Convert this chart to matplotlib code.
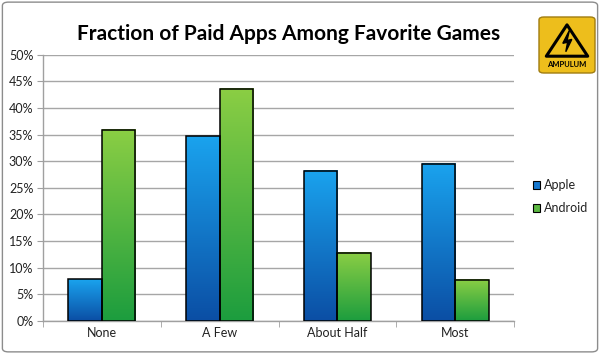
import matplotlib
matplotlib.use("Agg")
import matplotlib.pyplot as plt
import numpy as np
from matplotlib.patches import FancyBboxPatch, Polygon, Rectangle
from matplotlib.colors import LinearSegmentedColormap

categories = ["None", "A Few", "About Half", "Most"]
series_names = ["Apple", "Android"]
apple = [7.8, 34.7, 28.2, 29.5]
android = [35.9, 43.6, 12.8, 7.7]
yticks = [0, 5, 10, 15, 20, 25, 30, 35, 40, 45, 50]
title = "Fraction of Paid Apps Among Favorite Games"

plt.rcParams['font.family'] = ['Lato', 'DejaVu Sans']

fig = plt.figure(figsize=(6, 3.54), dpi=100)
fig.patch.set_facecolor("white")
ax = fig.add_axes([0.0717, 0.0932, 0.785, 0.7523])

cmaps = [
    LinearSegmentedColormap.from_list("b", ["#0B4EA4", "#1AA3EE"]),
    LinearSegmentedColormap.from_list("g", ["#1C9D3E", "#8BCE44"]),
]
legend_cols = ["#1577CE", "#5CB842"]

x = np.arange(len(categories))
w = 0.285
grad = np.linspace(0, 1, 256).reshape(-1, 1)
for i, (vals, cm) in enumerate(zip([apple, android], cmaps)):
    offs = (i - 0.5) * w
    bars = ax.bar(x + offs, vals, w, facecolor="none", edgecolor="black",
                  linewidth=1.1, zorder=4, label=series_names[i])
    for b in bars:
        x0, y0 = b.get_x(), b.get_y()
        bw, bh = b.get_width(), b.get_height()
        ax.imshow(grad, cmap=cm, origin="lower", aspect="auto",
                  extent=[x0, x0 + bw, y0, y0 + bh], zorder=3,
                  interpolation="bilinear")

ax.set_xlim(-0.5, len(categories) - 0.5)
ax.set_ylim(0, 50)
ax.set_yticks(yticks)
ax.set_yticklabels([f"{v}%" for v in yticks], fontsize=9, color="#222222")
ax.set_xticks(x)
ax.set_xticklabels(categories, fontsize=9, color="#222222")
ax.set_xticks(np.arange(-0.5, len(categories), 1), minor=True)
ax.tick_params(axis="x", which="major", length=0, pad=4)
ax.tick_params(axis="x", which="minor", length=4, color="#A0A0A0", direction="out")
ax.tick_params(axis="y", length=4, color="#A0A0A0", direction="out", pad=3)
ax.yaxis.grid(True, color="#A6A6A6", linewidth=1.0, zorder=0)
ax.set_axisbelow(True)
for s in ["top", "right"]:
    ax.spines[s].set_visible(False)
for s in ["left", "bottom"]:
    ax.spines[s].set_color("#A0A0A0")
    ax.spines[s].set_linewidth(1.0)

fig.text(0.4817, 0.905, title, ha="center", va="center", fontsize=15,
         fontweight="bold", color="black")

# legend
for i, (name, col) in enumerate(zip(series_names, legend_cols)):
    yy = 1 - (185 + i * 23) / 354
    fig.patches.append(Rectangle((0.888, yy - 0.012), 0.0125, 0.024,
                                 transform=fig.transFigure, facecolor=col,
                                 edgecolor="black", linewidth=0.8))
    fig.text(0.906, yy, name, fontsize=9, va="center", color="#222222")

# logo
lx0, ly0, lw, lh = 539 / 600, 1 - 73 / 354, 56 / 600, 56 / 354
fig.patches.append(FancyBboxPatch((lx0, ly0), lw, lh, boxstyle="round,pad=0,rounding_size=0.008",
                                  transform=fig.transFigure, facecolor="#EDBE1C",
                                  edgecolor="#A07C10", linewidth=1.0))
cx = lx0 + lw / 2
tri = Polygon([[cx, ly0 + lh * 0.86], [lx0 + lw * 0.13, ly0 + lh * 0.30],
               [lx0 + lw * 0.87, ly0 + lh * 0.30]], closed=True,
              transform=fig.transFigure, facecolor="#EDBE1C", edgecolor="black",
              linewidth=2.2, joinstyle="round")
fig.patches.append(tri)
bolt = Polygon([[cx + 0.004, ly0 + lh * 0.76], [cx - 0.007, ly0 + lh * 0.53],
                [cx + 0.001, ly0 + lh * 0.55], [cx - 0.002, ly0 + lh * 0.38],
                [cx + 0.008, ly0 + lh * 0.60], [cx + 0.000, ly0 + lh * 0.58]],
               closed=True, transform=fig.transFigure, facecolor="black", edgecolor="black")
fig.patches.append(bolt)
fig.text(cx, ly0 + lh * 0.15, "AMPULUM", fontsize=5.5, fontweight="bold",
         ha="center", va="center", color="black")

# outer border
fig.patches.append(FancyBboxPatch((0.004, 0.006), 0.992, 0.988,
                                  boxstyle="round,pad=0,rounding_size=0.01",
                                  transform=fig.transFigure, facecolor="none",
                                  edgecolor="#8C8C8C", linewidth=1.0))

fig.savefig("out.png", dpi=100, facecolor="white")
